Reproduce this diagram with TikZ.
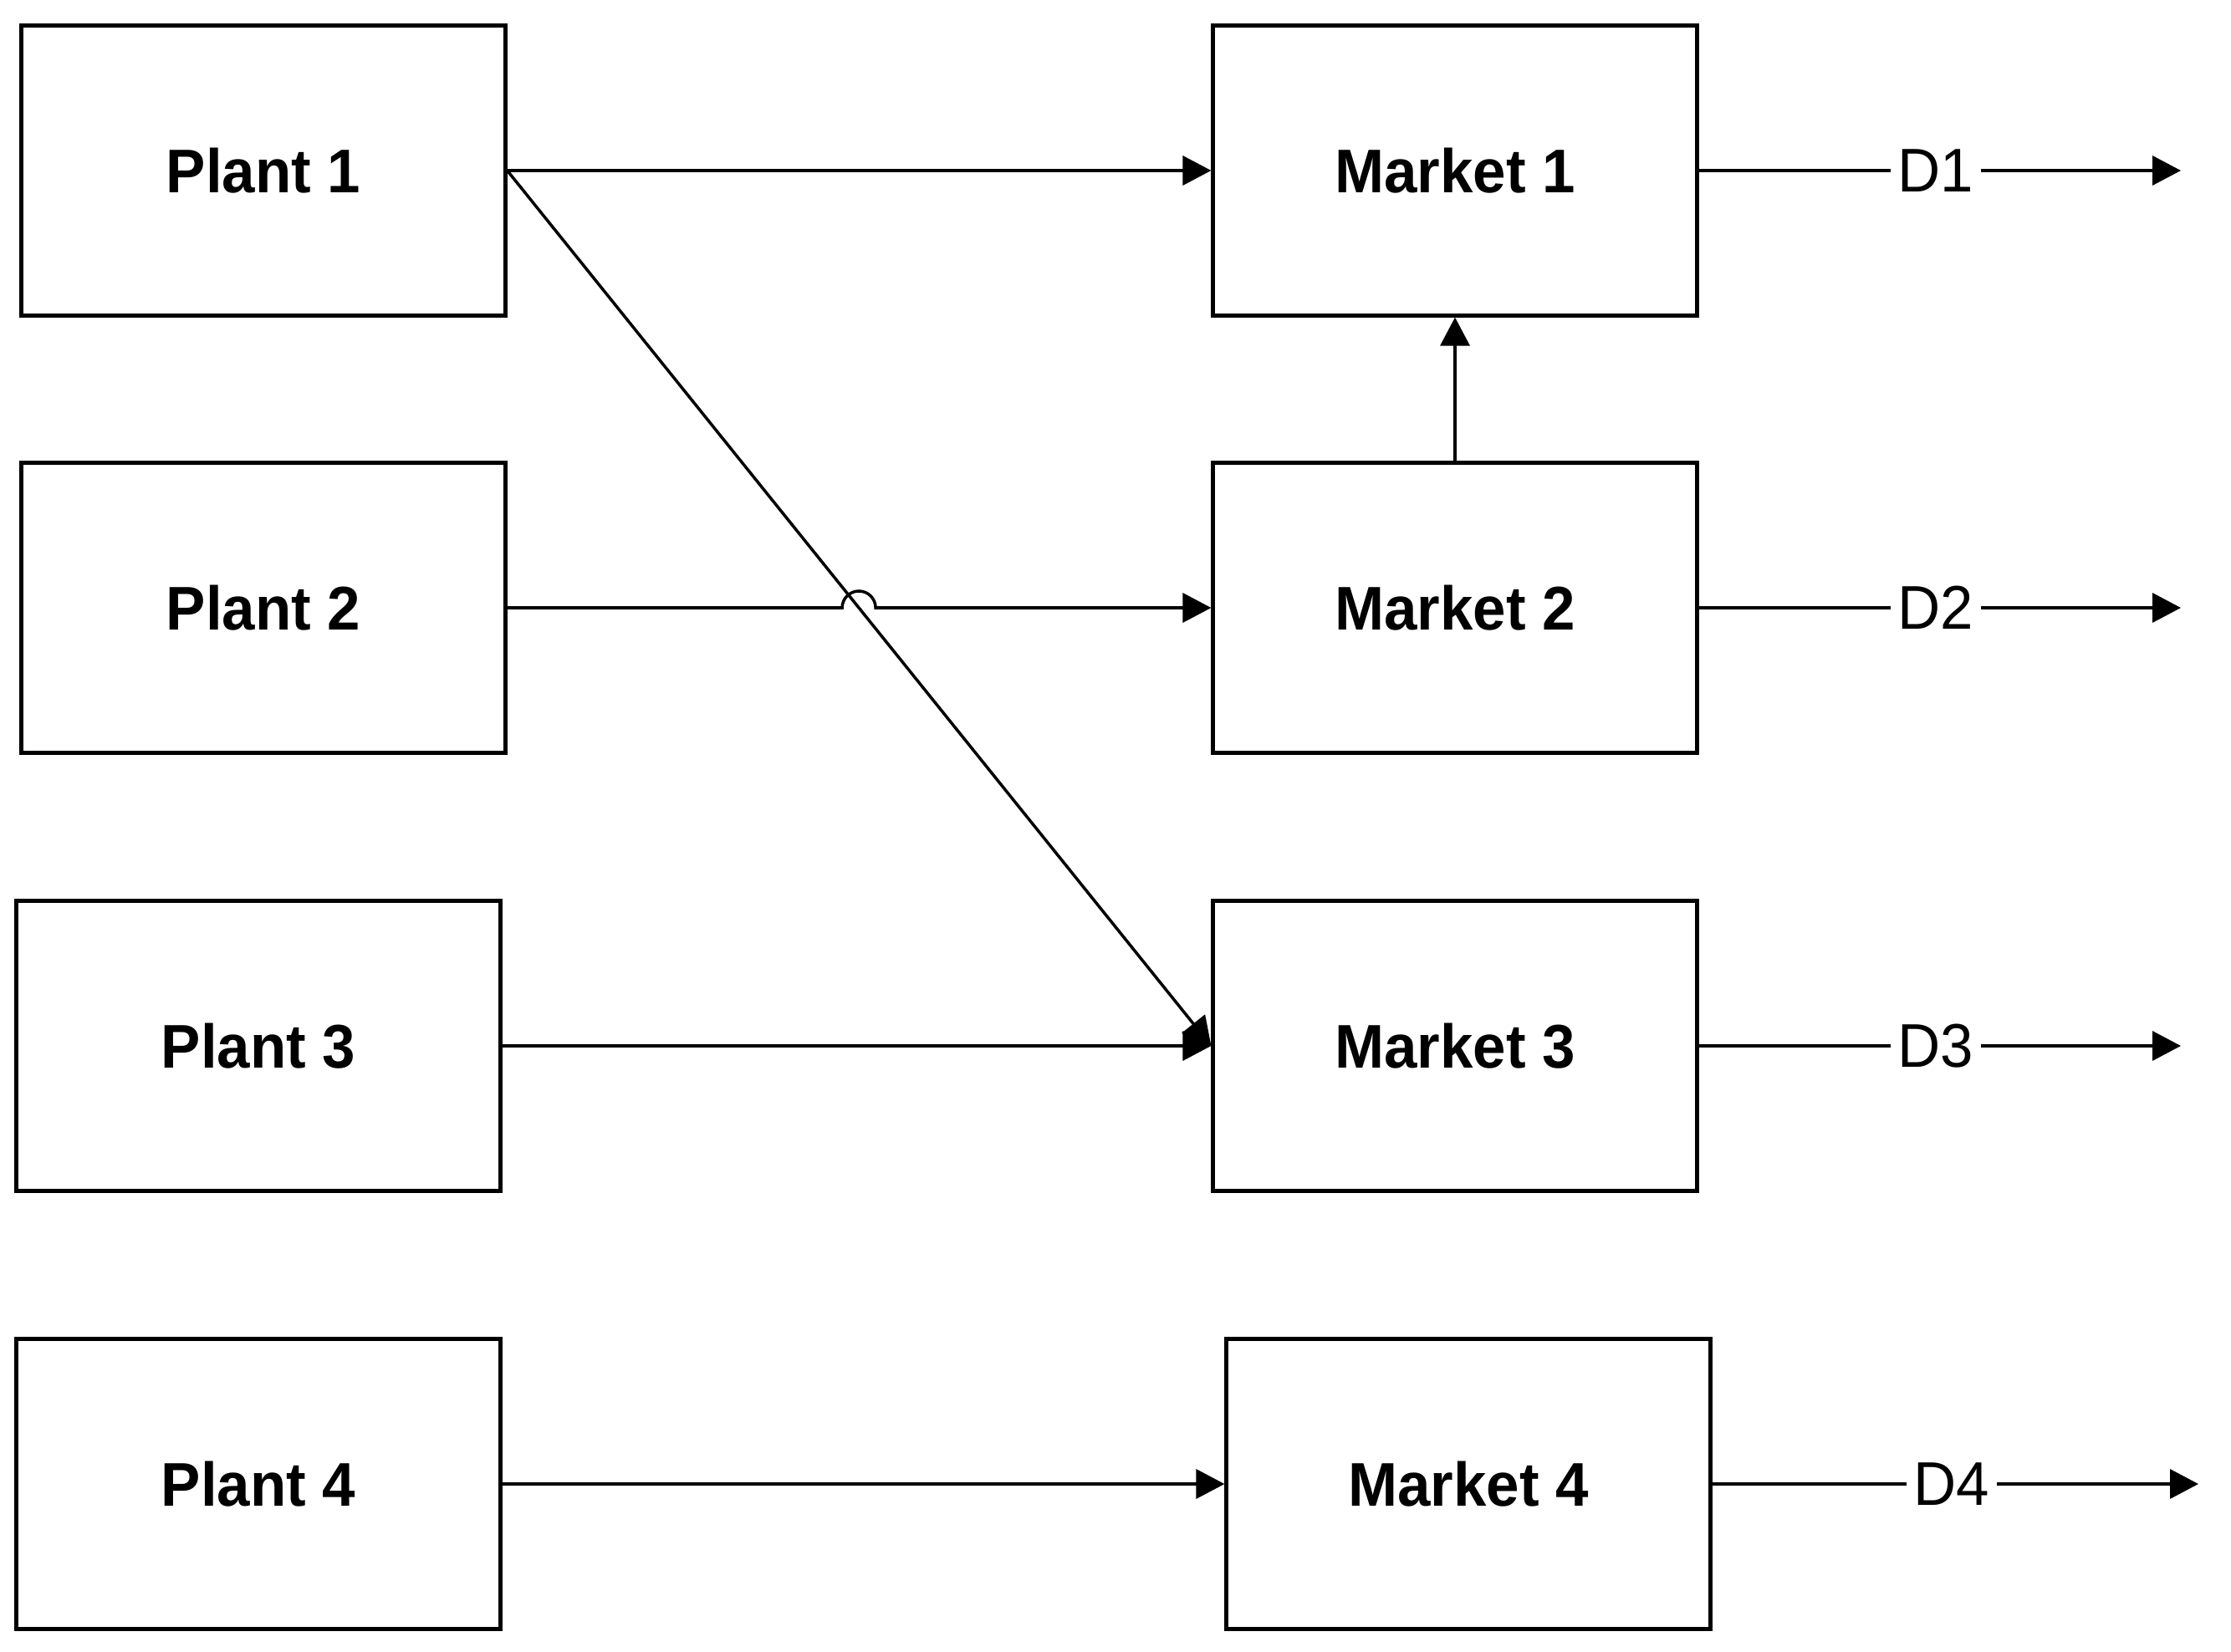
\documentclass[tikz,border=0pt]{standalone}
\usepackage{fontspec}
\newfontfamily\labelfont[FakeStretch=0.96]{Liberation Sans}
\usetikzlibrary{calc,intersections,arrows.meta}

\begin{document}
\begin{tikzpicture}[>={Triangle[length=0.34cm,width=0.35cm]},
  box/.style={draw,line width=1.2pt,minimum width=5.79cm,minimum height=3.47cm,
    font=\labelfont\bfseries\fontsize{21}{25}\selectfont},
  dlabel/.style={inner sep=0.08cm,font=\labelfont\fontsize{21}{25}\selectfont},
  flow/.style={line width=1pt}]
  % Configurable parameters
  \def\hopradius{0.2}
  %
  \useasboundingbox (0,0) rectangle (26.68,-19.75);
  %
  % Plants
  \node[box] (plant1) at (3.15,-2.04) {Plant 1};
  \node[box] (plant2) at (3.15,-7.27) {Plant 2};
  \node[box] (plant3) at (3.09,-12.51) {Plant 3};
  \node[box] (plant4) at (3.09,-17.75) {Plant 4};
  %
  % Markets
  \node[box] (market1) at (17.40,-2.04) {Market 1};
  \node[box] (market2) at (17.40,-7.27) {Market 2};
  \node[box] (market3) at (17.40,-12.51) {Market 3};
  \node[box] (market4) at (17.56,-17.75) {Market 4};
  %
  % Shipments
  \draw[flow,->] (plant1.east) -- (market1.west);
  \draw[flow,->,name path=diag] (plant1.east) -- (market3.west);
  \path[name path=row2] (plant2.east) -- (market2.west);
  \path[name intersections={of=diag and row2,by=hop}];
  \draw[flow,->] (plant2.east) -- ($(hop)+(-\hopradius,0)$)
    arc[start angle=180,end angle=0,radius=\hopradius] -- (market2.west);
  \draw[flow,->] (plant3.east) -- (market3.west);
  \draw[flow,->] (plant4.east) -- (market4.west);
  \draw[flow,->] (market2.north) -- (market1.south);
  %
  % Demands
  \node[dlabel] (d1) at (23.15,-2.04) {D1};
  \node[dlabel] (d2) at (23.15,-7.27) {D2};
  \node[dlabel] (d3) at (23.15,-12.51) {D3};
  \node[dlabel] (d4) at (23.34,-17.75) {D4};
  \coordinate (end1) at (26.08,-2.04);
  \coordinate (end2) at (26.08,-7.27);
  \coordinate (end3) at (26.08,-12.51);
  \coordinate (end4) at (26.29,-17.75);
  \draw[flow] (market1.east) -- (d1.west);
  \draw[flow,->] (d1.east) -- (end1);
  \draw[flow] (market2.east) -- (d2.west);
  \draw[flow,->] (d2.east) -- (end2);
  \draw[flow] (market3.east) -- (d3.west);
  \draw[flow,->] (d3.east) -- (end3);
  \draw[flow] (market4.east) -- (d4.west);
  \draw[flow,->] (d4.east) -- (end4);
  %
\end{tikzpicture}
\end{document}
